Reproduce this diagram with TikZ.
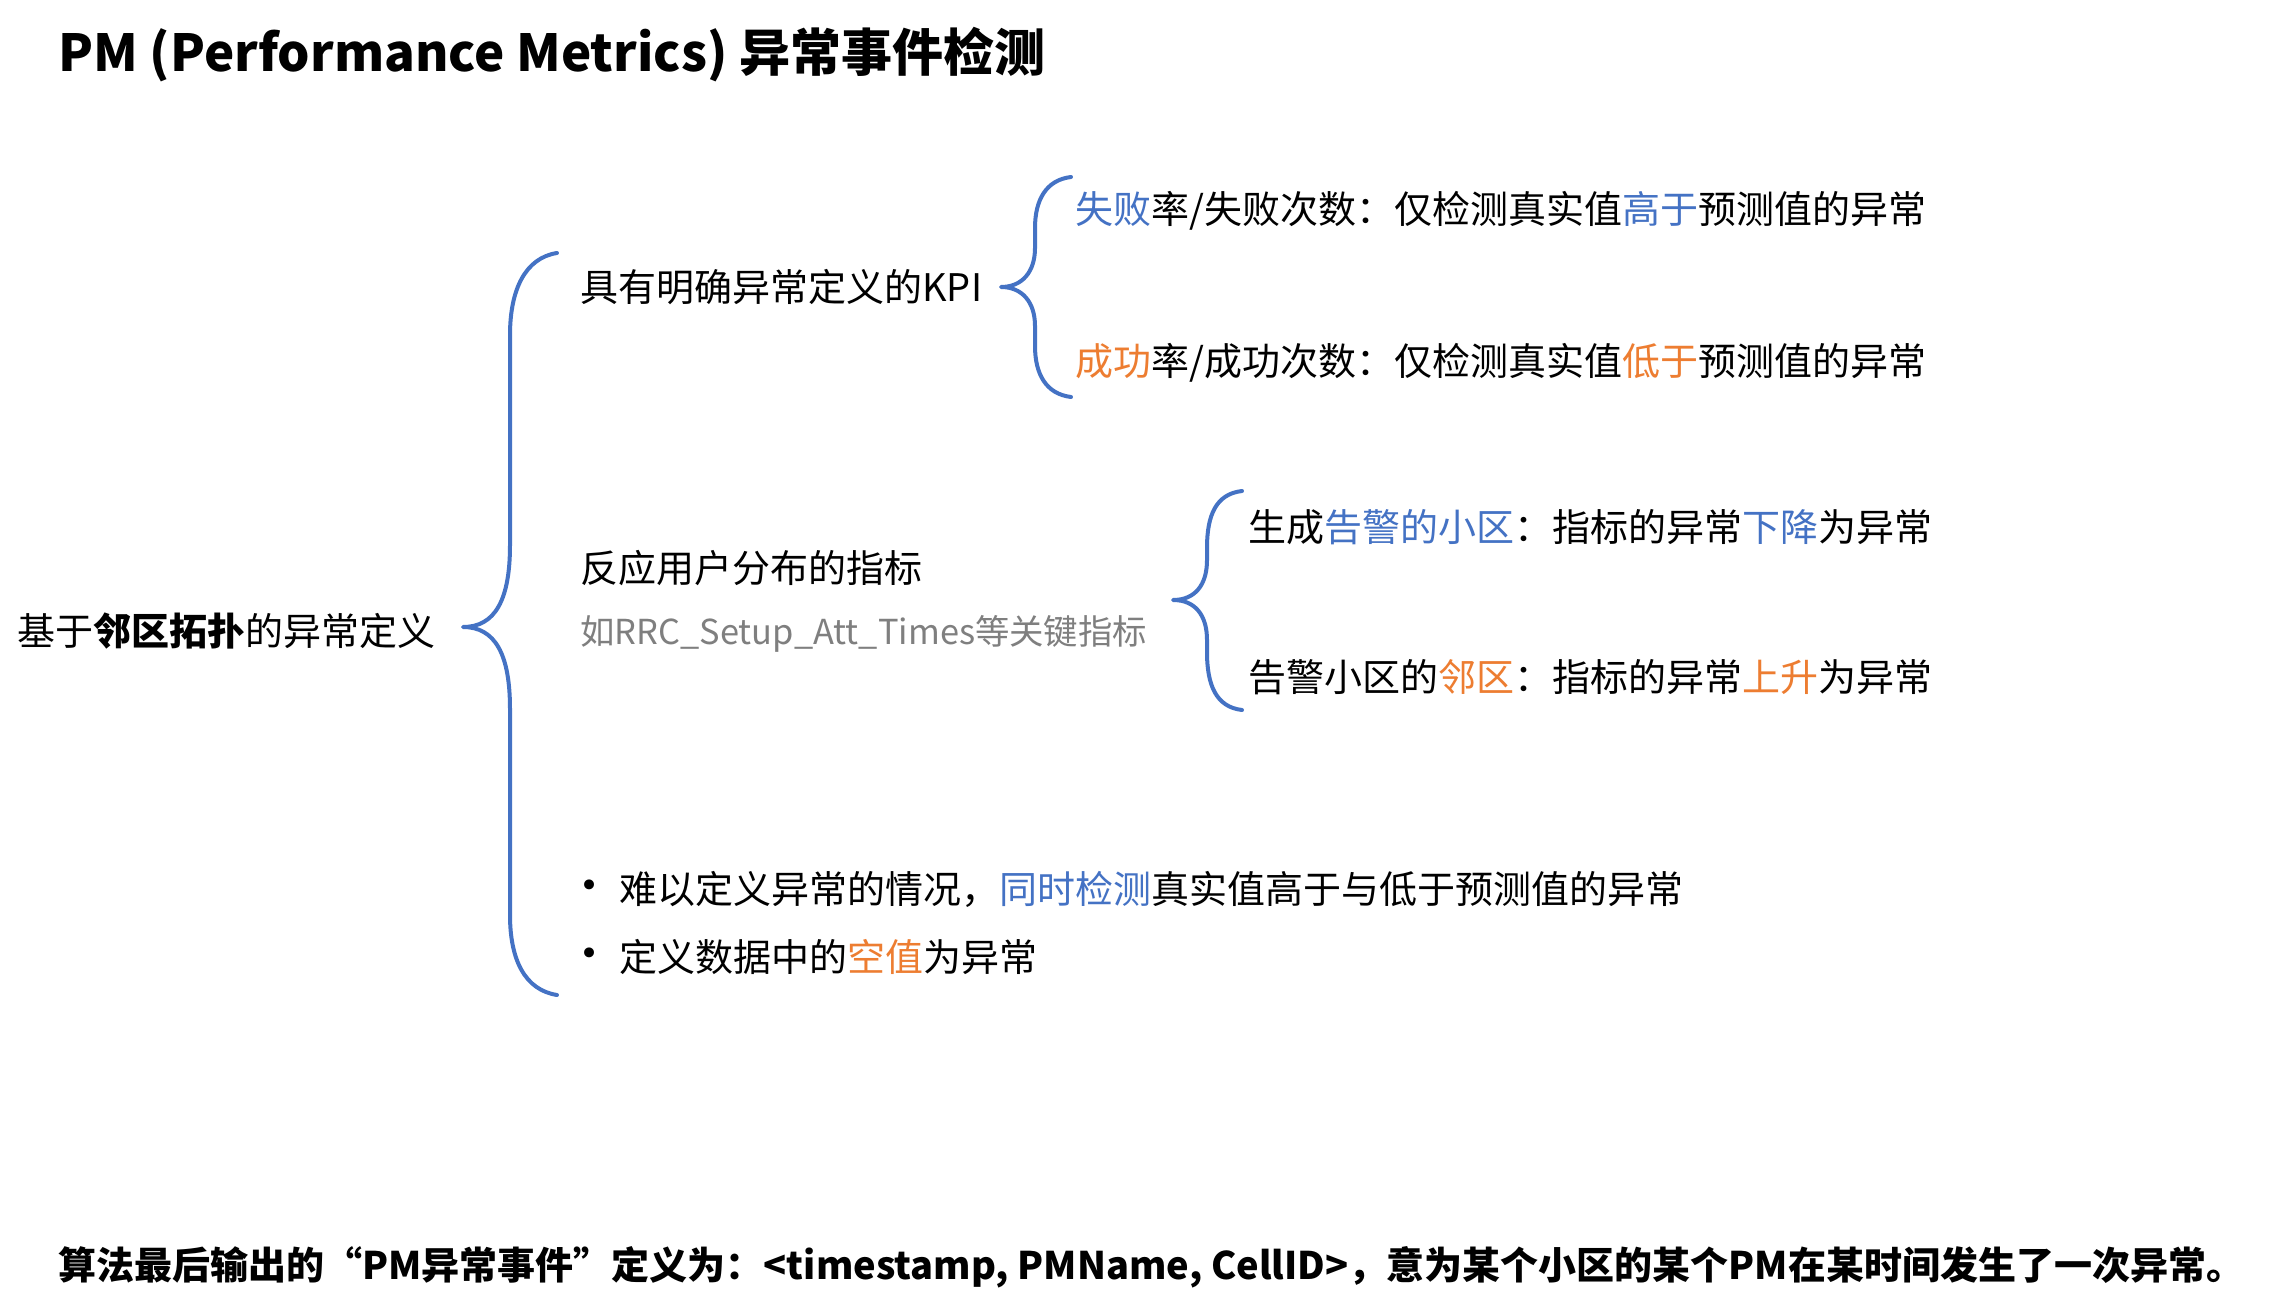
\documentclass[tikz,border=0pt]{standalone}
\usepackage{fontspec}
\setmainfont{Noto Sans CJK SC}
\newfontfamily\bulfont{DejaVu Sans}
\definecolor{braceblue}{HTML}{4472C4}
\definecolor{hiblue}{HTML}{4472C4}
\definecolor{hiorange}{HTML}{ED7D31}
\definecolor{graytxt}{HTML}{7F7F7F}
\begin{document}
\begin{tikzpicture}[x=0.5pt,y=-0.5pt,
  txt/.style={anchor=west, inner sep=0pt, font=\fontsize{19}{23}\selectfont},
  bul/.style={anchor=west, inner sep=0pt, font=\bulfont\fontsize{17}{20}\selectfont},
  ttl/.style={anchor=west, inner sep=0pt, font=\fontsize{25.5}{30}\selectfont\bfseries},
  sumtxt/.style={anchor=west, inner sep=0pt, font=\fontsize{19}{23}\selectfont\bfseries},
  graynote/.style={anchor=west, inner sep=0pt, text=graytxt, font=\fontsize{17.2}{21}\selectfont},
  brc/.style={draw=braceblue, line width=2pt, line cap=round, line join=round}]
\path[use as bounding box, fill=white] (0,0) rectangle (2284,1310);

% title
\node[ttl] (title) at (58,55) {PM (Performance Metrics) 异常事件检测};

% root
\node[txt] (root) at (17,631) {基于\textbf{邻区拓扑}的异常定义};

% branch 1
\node[txt] (kpi) at (580,287) {具有明确异常定义的KPI};
\node[txt] (fail) at (1075,211) {\textcolor{hiblue}{失败}率/失败次数：仅检测真实值\textcolor{hiblue}{高于}预测值的异常};
\node[txt] (succ) at (1075,363) {\textcolor{hiorange}{成功}率/成功次数：仅检测真实值\textcolor{hiorange}{低于}预测值的异常};

% branch 2
\node[txt] (dist) at (580,568) {反应用户分布的指标};
\node[graynote] (distex) at (580,634) {如RRC\_Setup\_Att\_Times等关键指标};
\node[txt] (alarm) at (1248,527) {生成\textcolor{hiblue}{告警的小区}：指标的异常\textcolor{hiblue}{下降}为异常};
\node[txt] (nbr) at (1248,677) {告警小区的\textcolor{hiorange}{邻区}：指标的异常\textcolor{hiorange}{上升}为异常};

% branch 3
\node[bul] (bul1) at (579,889) {•};
\node[txt] (hard) at (619,889) {难以定义异常的情况，\textcolor{hiblue}{同时检测}真实值高于与低于预测值的异常};
\node[bul] (bul2) at (579,957) {•};
\node[txt] (null) at (619,957) {定义数据中的\textcolor{hiorange}{空值}为异常};

% summary
\node[sumtxt] (summary) at (58,1267) {算法最后输出的“PM异常事件”定义为：<timestamp, PMName, CellID>，意为某个小区的某个PM在某时间发生了一次异常。};

% braces
\coordinate (tip1) at (463,627);
\coordinate (tip2) at (1001,287);
\coordinate (tip3) at (1173,600);

\draw[brc] (557,253) .. controls (525,258) and (510,290) .. (510,335)
  -- (510,545) .. controls (510,600) and (495,627) .. (tip1)
  .. controls (495,627) and (510,654) .. (510,709)
  -- (510,915) .. controls (510,960) and (525,990) .. (557,995);

\draw[brc] (1071,177) .. controls (1046,180) and (1035,200) .. (1035,228)
  -- (1035,248) .. controls (1035,272) and (1022,287) .. (tip2)
  .. controls (1022,287) and (1035,302) .. (1035,326)
  -- (1035,346) .. controls (1035,374) and (1046,394) .. (1071,397);

\draw[brc] (1242,491) .. controls (1216,494) and (1207,515) .. (1207,548)
  -- (1207,560) .. controls (1207,585) and (1195,600) .. (tip3)
  .. controls (1195,600) and (1207,615) .. (1207,640)
  -- (1207,652) .. controls (1207,685) and (1216,707) .. (1242,710);
\end{tikzpicture}
\end{document}
